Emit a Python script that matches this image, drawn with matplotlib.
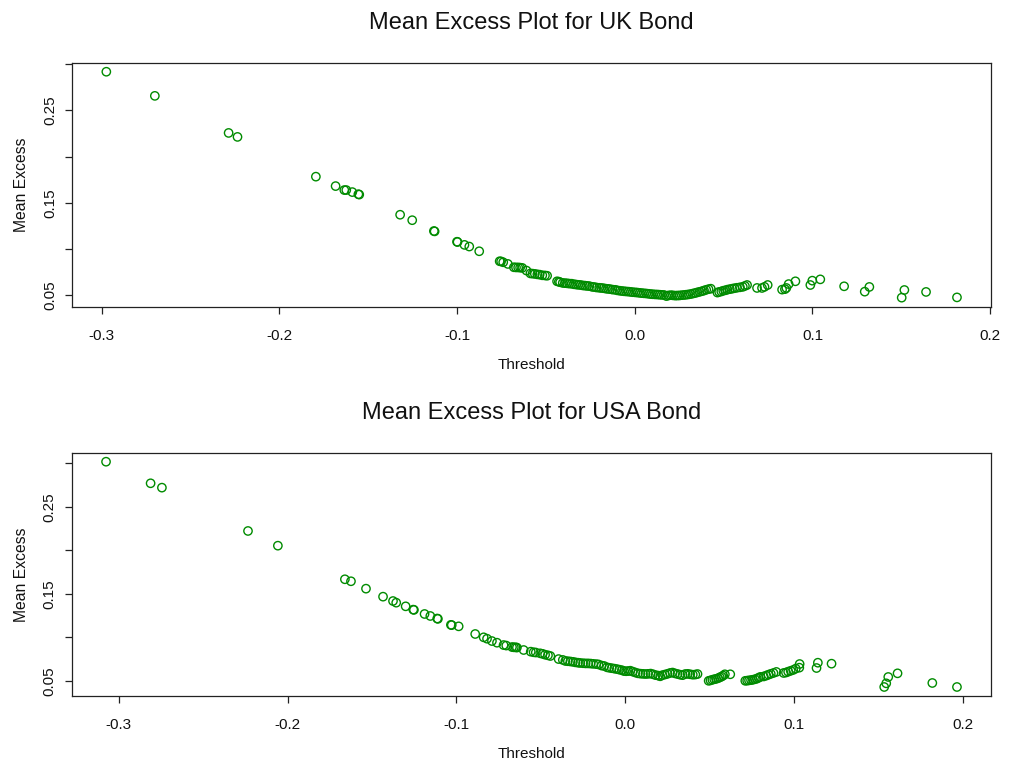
import matplotlib
matplotlib.use("Agg")
import matplotlib.pyplot as plt
import numpy as np

plt.rcParams["font.family"] = ["Liberation Sans", "DejaVu Sans"]

# Mean excess e(u) against threshold u, UK bond returns
uk_threshold = [
    -0.2973, -0.2700, -0.2285, -0.2235, -0.1794, -0.1683, -0.1634, -0.1623,
    -0.1589, -0.1555, -0.1550, -0.1320, -0.1252, -0.1130, -0.1126, -0.1000,
    -0.0997, -0.0958, -0.0931, -0.0875, -0.0760, -0.0752, -0.0740, -0.0714,
    -0.0680, -0.0668, -0.0656, -0.0645, -0.0633, -0.0609, -0.0587, -0.0575,
    -0.0562, -0.0548, -0.0535, -0.0520, -0.0505, -0.0493, -0.0437, -0.0427,
    -0.0420, -0.0405, -0.0392, -0.0380, -0.0368, -0.0355, -0.0342, -0.0330,
    -0.0318, -0.0305, -0.0292, -0.0280, -0.0268, -0.0255, -0.0240, -0.0228,
    -0.0215, -0.0200, -0.0188, -0.0175, -0.0162, -0.0150, -0.0138, -0.0125,
    -0.0110, -0.0098, -0.0085, -0.0072, -0.0060, -0.0048, -0.0035, -0.0022,
    -0.0010, 0.0003, 0.0015, 0.0028, 0.0040, 0.0052, 0.0065, 0.0078,
    0.0090, 0.0102, 0.0115, 0.0128, 0.0140, 0.0152, 0.0165, 0.0178,
    0.0190, 0.0203, 0.0215, 0.0228, 0.0240, 0.0252, 0.0265, 0.0278,
    0.0290, 0.0302, 0.0315, 0.0328, 0.0340, 0.0352, 0.0365, 0.0378,
    0.0390, 0.0402, 0.0415, 0.0428, 0.0465, 0.0475, 0.0487, 0.0498,
    0.0510, 0.0522, 0.0535, 0.0548, 0.0560, 0.0575, 0.0592, 0.0608,
    0.0620, 0.0632, 0.0688, 0.0716, 0.0730, 0.0748, 0.0829, 0.0845,
    0.0853, 0.0866, 0.0904, 0.0988, 0.0999, 0.1044, 0.1178, 0.1294,
    0.1320, 0.1502, 0.1517, 0.1639, 0.1813,
]
uk_mean_excess = [
    0.2917, 0.2656, 0.2255, 0.2212, 0.1782, 0.1680, 0.1637, 0.1637,
    0.1615, 0.1592, 0.1588, 0.1370, 0.1311, 0.1194, 0.1190, 0.1078,
    0.1075, 0.1044, 0.1026, 0.0975, 0.0867, 0.0865, 0.0856, 0.0838,
    0.0802, 0.0800, 0.0800, 0.0798, 0.0795, 0.0766, 0.0735, 0.0733,
    0.0730, 0.0725, 0.0722, 0.0715, 0.0713, 0.0710, 0.0650, 0.0646,
    0.0640, 0.0632, 0.0630, 0.0628, 0.0625, 0.0624, 0.0618, 0.0615,
    0.0612, 0.0610, 0.0605, 0.0603, 0.0600, 0.0598, 0.0590, 0.0588,
    0.0583, 0.0580, 0.0578, 0.0575, 0.0570, 0.0568, 0.0565, 0.0560,
    0.0558, 0.0552, 0.0548, 0.0545, 0.0542, 0.0540, 0.0538, 0.0535,
    0.0532, 0.0530, 0.0528, 0.0525, 0.0522, 0.0520, 0.0518, 0.0515,
    0.0512, 0.0510, 0.0508, 0.0507, 0.0505, 0.0503, 0.0502, 0.0490,
    0.0497, 0.0500, 0.0498, 0.0495, 0.0496, 0.0497, 0.0500, 0.0502,
    0.0505, 0.0508, 0.0512, 0.0518, 0.0523, 0.0530, 0.0536, 0.0543,
    0.0550, 0.0558, 0.0565, 0.0570, 0.0528, 0.0535, 0.0540, 0.0548,
    0.0553, 0.0560, 0.0565, 0.0570, 0.0575, 0.0580, 0.0585, 0.0590,
    0.0600, 0.0610, 0.0578, 0.0578, 0.0590, 0.0610, 0.0560, 0.0565,
    0.0578, 0.0620, 0.0650, 0.0610, 0.0657, 0.0671, 0.0596, 0.0538,
    0.0589, 0.0473, 0.0556, 0.0535, 0.0476,
]

# Mean excess e(u) against threshold u, USA bond returns
usa_threshold = [
    -0.3076, -0.2812, -0.2745, -0.2235, -0.2058, -0.1661, -0.1625, -0.1536,
    -0.1435, -0.1376, -0.1357, -0.1301, -0.1256, -0.1252, -0.1189, -0.1155,
    -0.1114, -0.1110, -0.1033, -0.1028, -0.0987, -0.0889, -0.0839, -0.0819,
    -0.0790, -0.0760, -0.0721, -0.0705, -0.0671, -0.0660, -0.0650, -0.0642,
    -0.0602, -0.0560, -0.0543, -0.0530, -0.0504, -0.0490, -0.0475, -0.0458,
    -0.0444, -0.0395, -0.0370, -0.0355, -0.0340, -0.0325, -0.0310, -0.0295,
    -0.0280, -0.0267, -0.0250, -0.0235, -0.0220, -0.0205, -0.0190, -0.0172,
    -0.0158, -0.0140, -0.0125, -0.0108, -0.0095, -0.0080, -0.0065, -0.0050,
    -0.0035, -0.0020, -0.0008, 0.0005, 0.0018, 0.0030, 0.0045, 0.0060,
    0.0075, 0.0090, 0.0105, 0.0120, 0.0135, 0.0150, 0.0165, 0.0180,
    0.0195, 0.0207, 0.0220, 0.0235, 0.0250, 0.0265, 0.0280, 0.0295,
    0.0310, 0.0325, 0.0340, 0.0355, 0.0370, 0.0385, 0.0400, 0.0415,
    0.0428, 0.0494, 0.0505, 0.0516, 0.0527, 0.0538, 0.0550, 0.0560,
    0.0570, 0.0580, 0.0590, 0.0622, 0.0711, 0.0722, 0.0733, 0.0745,
    0.0756, 0.0768, 0.0780, 0.0790, 0.0800, 0.0820, 0.0835, 0.0848,
    0.0862, 0.0878, 0.0895, 0.0938, 0.0952, 0.0965, 0.0980, 0.0995,
    0.1010, 0.1031, 0.1033, 0.1133, 0.1141, 0.1222, 0.1534, 0.1546,
    0.1558, 0.1613, 0.1819, 0.1965,
]
usa_mean_excess = [
    0.3018, 0.2770, 0.2720, 0.2222, 0.2053, 0.1667, 0.1644, 0.1559,
    0.1467, 0.1417, 0.1398, 0.1356, 0.1318, 0.1315, 0.1268, 0.1245,
    0.1216, 0.1212, 0.1143, 0.1140, 0.1126, 0.1038, 0.1000, 0.0984,
    0.0957, 0.0938, 0.0911, 0.0905, 0.0888, 0.0885, 0.0885, 0.0882,
    0.0854, 0.0835, 0.0828, 0.0825, 0.0816, 0.0810, 0.0800, 0.0793,
    0.0785, 0.0750, 0.0740, 0.0728, 0.0725, 0.0722, 0.0718, 0.0712,
    0.0708, 0.0705, 0.0702, 0.0700, 0.0700, 0.0698, 0.0695, 0.0692,
    0.0688, 0.0675, 0.0670, 0.0655, 0.0650, 0.0645, 0.0640, 0.0635,
    0.0628, 0.0622, 0.0612, 0.0610, 0.0612, 0.0616, 0.0605, 0.0595,
    0.0586, 0.0582, 0.0580, 0.0578, 0.0580, 0.0583, 0.0575, 0.0565,
    0.0560, 0.0552, 0.0565, 0.0572, 0.0580, 0.0590, 0.0595, 0.0585,
    0.0578, 0.0570, 0.0565, 0.0578, 0.0580, 0.0575, 0.0570, 0.0572,
    0.0578, 0.0500, 0.0505, 0.0512, 0.0518, 0.0522, 0.0530, 0.0540,
    0.0548, 0.0560, 0.0575, 0.0575, 0.0500, 0.0502, 0.0505, 0.0508,
    0.0512, 0.0518, 0.0525, 0.0535, 0.0545, 0.0550, 0.0560, 0.0570,
    0.0580, 0.0590, 0.0602, 0.0590, 0.0595, 0.0605, 0.0615, 0.0625,
    0.0640, 0.0651, 0.0693, 0.0647, 0.0708, 0.0697, 0.0429, 0.0471,
    0.0544, 0.0586, 0.0475, 0.0429,
]

x_ticks = [-0.3, -0.2, -0.1, 0.0, 0.1, 0.2]
x_tick_labels = ["-0.3", "-0.2", "-0.1", "0.0", "0.1", "0.2"]
y_ticks = [0.05, 0.10, 0.15, 0.20, 0.25, 0.30]
y_tick_labels = ["0.05", "", "0.15", "", "0.25", ""]

panels = [
    ("Mean Excess Plot for UK Bond", uk_threshold, uk_mean_excess),
    ("Mean Excess Plot for USA Bond", usa_threshold, usa_mean_excess),
]

W, H = 1009, 767
fig = plt.figure(figsize=(W / 100, H / 100), dpi=100)

# axes boxes in pixel units: left, top, right, bottom
boxes = [(72.3, 62.7, 991.0, 306.7), (72.0, 452.7, 991.0, 696.0)]

green = "#008B00"
for (title, xs, ys), (l, t, r, b) in zip(panels, boxes):
    ax = fig.add_axes([l / W, 1 - b / H, (r - l) / W, (b - t) / H])
    ax.scatter(xs, ys, s=36, facecolors="none", edgecolors=green,
               linewidths=1.0, zorder=3)

    # 4 % padding on each side of the data range
    xr = max(xs) - min(xs)
    yr = max(ys) - min(ys)
    ax.set_xlim(min(xs) - 0.04 * xr, max(xs) + 0.04 * xr)
    ax.set_ylim(min(ys) - 0.04 * yr, max(ys) + 0.04 * yr)

    ax.set_xticks(x_ticks)
    ax.set_xticklabels(x_tick_labels)
    ax.set_yticks(y_ticks)
    ax.set_yticklabels(y_tick_labels, rotation=90, va="center")

    ax.tick_params(axis="both", direction="out", length=5, width=0.9,
                   color="#222222", labelsize=11, labelcolor="#111111")
    ax.tick_params(axis="x", pad=11)
    ax.tick_params(axis="y", pad=6)

    for sp in ax.spines.values():
        sp.set_linewidth(0.9)
        sp.set_color("#222222")

    ax.set_title(title, fontsize=17, pad=24, color="#111111")
    ax.set_xlabel("Threshold", fontsize=11, labelpad=11, color="#111111")
    ax.set_ylabel("Mean Excess", fontsize=11.3, labelpad=10, color="#111111")

fig.savefig("out.png", dpi=100)
